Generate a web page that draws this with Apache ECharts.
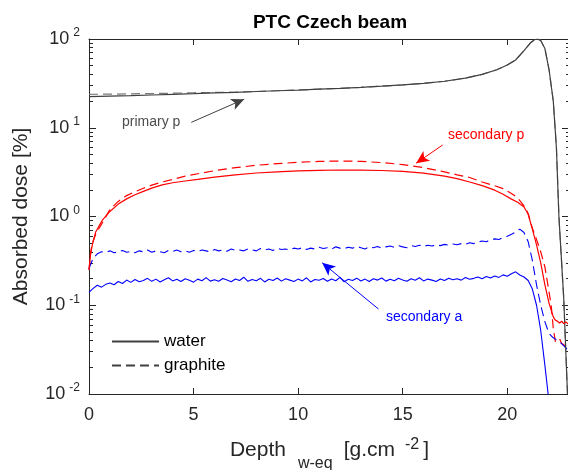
<!DOCTYPE html>
<html>
<head>
<meta charset="utf-8">
<script src="https://cdn.jsdelivr.net/npm/echarts@6/dist/echarts.min.js"></script>
<style>
  html, body { margin: 0; padding: 0; background: #ffffff; }
  #chart { width: 568px; height: 470px; }
</style>
</head>
<body>
<div id="chart"></div>
<script>
// Depth in water-equivalent [g/cm^2], dose in percent of Bragg-peak maximum.

// Primary protons
const primaryDepth = [0, 1, 2, 3, 4, 5, 6, 7, 8, 9, 10, 11, 12, 13, 14, 15, 16, 17, 18, 18.8, 19.5, 20, 20.4, 20.8, 21.1, 21.3, 21.45, 21.6, 21.8, 22.0, 22.2, 22.35, 22.47, 22.6, 22.7, 22.8, 22.88];
const primaryWater = [22.4, 22.7, 23.0, 23.4, 23.8, 24.2, 24.7, 25.1, 25.6, 26.1, 26.6, 27.2, 27.8, 28.5, 29.4, 30.4, 31.7, 33.4, 36.2, 40, 45, 51, 58, 74, 90, 98, 100, 96, 78, 45, 20, 6, 1, 0.3, 0.12, 0.03, 0.01];
const primaryGraphite = [23.8, 23.9, 24.1, 24.3, 24.5, 24.8, 25.0, 25.2, 25.6, 26.1, 26.6, 27.2, 27.8, 28.5, 29.4, 30.4, 31.7, 33.4, 36.2, 40, 45, 51, 58, 74, 90, 98, 100, 96, 78, 45, 20, 6, 1, 0.3, 0.12, 0.03, 0.01];

// Secondary protons
const secDepth = [0, 0.08, 0.16, 0.32, 0.64, 1.0, 1.4, 1.8, 2.2, 2.6, 3.0, 3.5, 4.0, 4.6, 5.2, 6.0, 7.0, 8.0, 9.0, 10.0, 11.0, 12.0, 13.0, 14.0, 15.0, 16.0, 17.0, 17.6, 18.2, 18.8, 19.4, 19.8, 20.2, 20.5, 20.8, 21.0, 21.2, 21.4, 21.6, 21.8, 22.0, 22.1, 22.2, 22.3, 22.4, 22.5, 22.6, 22.7, 22.8, 22.9, 23.0];
const secProtonWater = [0.25, 0.38, 0.48, 0.67, 0.91, 1.14, 1.38, 1.58, 1.76, 1.92, 2.09, 2.27, 2.40, 2.51, 2.62, 2.78, 2.95, 3.09, 3.18, 3.26, 3.31, 3.34, 3.33, 3.30, 3.22, 3.08, 2.85, 2.67, 2.45, 2.23, 1.98, 1.78, 1.57, 1.45, 1.28, 1.06, 0.72, 0.48, 0.30, 0.17, 0.105, 0.088, 0.074, 0.068, 0.066, 0.063, 0.066, 0.062, 0.065, 0.062, 0.064];
const secProtonGraphite = [0.25, 0.40, 0.50, 0.63, 0.85, 1.20, 1.48, 1.72, 1.90, 2.08, 2.26, 2.45, 2.62, 2.85, 3.03, 3.28, 3.55, 3.78, 3.94, 4.08, 4.18, 4.22, 4.18, 4.05, 3.85, 3.55, 3.18, 2.95, 2.75, 2.45, 2.22, 2.06, 1.82, 1.62, 1.32, 1.08, 0.74, 0.55, 0.40, 0.27, 0.14, 0.10, 0.055, 0.039, 0.040, 0.042, 0.037, 0.036, 0.034, 0.036, 0.035];

// Secondary alphas (Monte Carlo scatter kept as scored)
const alphaDepth = [0, 0.2, 0.4, 0.6, 0.8, 1, 1.2, 1.4, 1.6, 1.8, 2, 2.2, 2.4, 2.6, 2.8, 3, 3.2, 3.4, 3.6, 3.8, 4, 4.2, 4.4, 4.6, 4.8, 5, 5.2, 5.4, 5.6, 5.8, 6, 6.2, 6.4, 6.6, 6.8, 7, 7.2, 7.4, 7.6, 7.8, 8, 8.2, 8.4, 8.6, 8.8, 9, 9.2, 9.4, 9.6, 9.8, 10, 10.2, 10.4, 10.6, 10.8, 11, 11.2, 11.4, 11.6, 11.8, 12, 12.2, 12.4, 12.6, 12.8, 13, 13.2, 13.4, 13.6, 13.8, 14, 14.2, 14.4, 14.6, 14.8, 15, 15.2, 15.4, 15.6, 15.8, 16, 16.2, 16.4, 16.6, 16.8, 17, 17.2, 17.4, 17.6, 17.8, 18, 18.2, 18.4, 18.6, 18.8, 19, 19.2, 19.4, 19.6, 19.8, 20, 20.2, 20.4, 20.6, 20.8, 21, 21.2, 21.4, 21.6, 21.8, 22, 22.2, 22.4, 22.6, 22.8, 23];
const alphaWater = [0.140, 0.155, 0.168, 0.160, 0.172, 0.178, 0.170, 0.185, 0.176, 0.192, 0.181, 0.195, 0.184, 0.190, 0.201, 0.186, 0.197, 0.183, 0.194, 0.204, 0.188, 0.196, 0.185, 0.199, 0.191, 0.182, 0.197, 0.189, 0.205, 0.187, 0.194, 0.186, 0.200, 0.192, 0.184, 0.198, 0.190, 0.207, 0.186, 0.195, 0.189, 0.201, 0.183, 0.196, 0.190, 0.203, 0.187, 0.199, 0.192, 0.185, 0.197, 0.188, 0.204, 0.183, 0.195, 0.191, 0.200, 0.186, 0.198, 0.189, 0.206, 0.184, 0.196, 0.190, 0.202, 0.188, 0.197, 0.185, 0.199, 0.192, 0.203, 0.187, 0.196, 0.189, 0.201, 0.193, 0.186, 0.199, 0.191, 0.204, 0.188, 0.197, 0.192, 0.185, 0.198, 0.190, 0.202, 0.194, 0.199, 0.192, 0.205, 0.196, 0.201, 0.208, 0.199, 0.211, 0.203, 0.214, 0.206, 0.220, 0.212, 0.226, 0.238, 0.219, 0.208, 0.190, 0.152, 0.100, 0.052, 0.021, 0.008];
const alphaGraphite = [0.26, 0.34, 0.38, 0.40, 0.395, 0.41, 0.39, 0.40, 0.415, 0.395, 0.405, 0.39, 0.41, 0.40, 0.42, 0.395, 0.41, 0.40, 0.39, 0.415, 0.405, 0.42, 0.40, 0.41, 0.395, 0.415, 0.405, 0.42, 0.41, 0.40, 0.425, 0.41, 0.42, 0.405, 0.43, 0.415, 0.42, 0.41, 0.43, 0.42, 0.41, 0.435, 0.42, 0.43, 0.415, 0.44, 0.425, 0.43, 0.42, 0.44, 0.43, 0.445, 0.425, 0.44, 0.43, 0.45, 0.435, 0.445, 0.43, 0.455, 0.44, 0.435, 0.45, 0.44, 0.46, 0.445, 0.43, 0.455, 0.445, 0.46, 0.44, 0.455, 0.465, 0.45, 0.47, 0.455, 0.445, 0.47, 0.46, 0.475, 0.46, 0.475, 0.465, 0.48, 0.47, 0.485, 0.475, 0.49, 0.48, 0.495, 0.485, 0.505, 0.495, 0.515, 0.53, 0.52, 0.545, 0.56, 0.55, 0.58, 0.60, 0.63, 0.67, 0.72, 0.66, 0.52, 0.32, 0.17, 0.10, 0.065, 0.048, 0.043, 0.040, 0.037, 0.033, 0.030];

// Axis ticks
const xTicks = [0, 5, 10, 15, 20];
const yDecades = [0.01, 0.1, 1, 10, 100];
const yDecadeExponents = ['-2', '-1', '0', '1', '2'];
const yMinorTicks = [0.02, 0.03, 0.04, 0.05, 0.06, 0.07, 0.08, 0.09,
                     0.2, 0.3, 0.4, 0.5, 0.6, 0.7, 0.8, 0.9,
                     2, 3, 4, 5, 6, 7, 8, 9,
                     20, 30, 40, 50, 60, 70, 80, 90];

// Annotation arrows: [tail, head] in data coordinates
const primaryArrow = [[4.89, 11.5], [7.42, 21.0]];
const secProtonArrow = [[16.91, 6.39], [15.64, 3.98]];
const alphaArrow = [[13.84, 0.0908], [11.15, 0.301]];

const FONT = 'Liberation Sans';
const AXIS_COLOR = '#262626';
const GRAY = '#404040';
const RED = '#ff0000';
const BLUE = '#0000ff';
const DASH = [9, 5];

const pairs = (xs, ys) => ys.map((y, i) => [xs[i], y]);

function exponentOf(v) {
  const i = yDecades.findIndex(d => Math.abs(d - v) <= d * 1e-6);
  return i >= 0 ? yDecadeExponents[i] : '';
}

function curve(name, xs, ys, color, dashed, width, z) {
  return {
    name: name,
    type: 'line',
    data: pairs(xs, ys),
    symbol: 'none',
    showSymbol: false,
    clip: true,
    z: z,
    lineStyle: { color: color, width: width, type: dashed ? DASH : 'solid' },
    emphasis: { disabled: true }
  };
}

function arrow(points, color) {
  return {
    silent: true,
    animation: false,
    symbol: ['none', 'arrow'],
    symbolSize: [9, 13],
    label: { show: false },
    lineStyle: { color: color, width: 1, type: 'solid' },
    emphasis: { disabled: true },
    data: [[{ coord: points[0] }, { coord: points[1] }]]
  };
}

function logAxis(position, ticks, tickLen, showLabels, showLine) {
  return {
    type: 'log',
    logBase: 10,
    position: position,
    min: 0.01,
    max: 100,
    gridIndex: 0,
    axisLine: { show: showLine, lineStyle: { color: AXIS_COLOR, width: 1 } },
    axisTick: { show: true, inside: true, length: tickLen, customValues: ticks,
                lineStyle: { color: AXIS_COLOR, width: 1 } },
    splitLine: { show: false },
    minorTick: { show: false },
    axisLabel: showLabels ? {
      show: true,
      customValues: yDecades,
      margin: 9,
      formatter: v => '{b|10}{s|' + exponentOf(v) + '}',
      rich: {
        b: { fontSize: 18, lineHeight: 20, color: AXIS_COLOR, fontFamily: FONT },
        s: { fontSize: 12, lineHeight: 12, padding: [0, 0, 12, 4], color: AXIS_COLOR, fontFamily: FONT }
      }
    } : { show: false }
  };
}

function depthAxis(position, showLabels) {
  return {
    type: 'value',
    position: position,
    min: 0,
    max: 23,
    interval: 5,
    axisLine: { show: true, onZero: false, lineStyle: { color: AXIS_COLOR, width: 1 } },
    axisTick: { show: true, inside: true, length: 6, customValues: xTicks,
                lineStyle: { color: AXIS_COLOR, width: 1 } },
    splitLine: { show: false },
    axisLabel: showLabels ? {
      show: true, customValues: xTicks, margin: 12, fontSize: 18, color: AXIS_COLOR, fontFamily: FONT
    } : { show: false }
  };
}

const chart = echarts.init(document.getElementById('chart'), null, { renderer: 'canvas' });

const bottomAxis = depthAxis('bottom', true);
bottomAxis.name = '{m|Depth}{sub|w-eq}{m2|[g.cm}{sup|-2}{m3|]}';
bottomAxis.nameLocation = 'middle';
bottomAxis.nameGap = 34;
bottomAxis.nameTextStyle = {
  fontFamily: FONT,
  color: AXIS_COLOR,
  rich: {
    m:   { fontSize: 21, lineHeight: 22, color: AXIS_COLOR, fontFamily: FONT },
    sub: { fontSize: 16, lineHeight: 16, padding: [27, 0, 0, 12], color: AXIS_COLOR, fontFamily: FONT },
    m2:  { fontSize: 21, lineHeight: 22, padding: [0, 0, 0, 11], color: AXIS_COLOR, fontFamily: FONT },
    sup: { fontSize: 16, lineHeight: 16, padding: [0, 4, 12, 10], color: AXIS_COLOR, fontFamily: FONT },
    m3:  { fontSize: 21, lineHeight: 22, color: AXIS_COLOR, fontFamily: FONT }
  }
};

const leftAxis = logAxis('left', yDecades, 7, true, true);
leftAxis.name = 'Absorbed dose [%]';
leftAxis.nameLocation = 'middle';
leftAxis.nameGap = 57;
leftAxis.nameTextStyle = { fontSize: 21, color: AXIS_COLOR, fontFamily: FONT };

const option = {
  animation: false,
  backgroundColor: '#ffffff',
  textStyle: { fontFamily: FONT },
  title: {
    text: 'PTC Czech beam',
    left: 325,
    top: 8,
    textAlign: 'center',
    textStyle: { fontSize: 19, fontWeight: 'bold', color: '#000000', fontFamily: FONT }
  },
  grid: { left: 89, top: 39, width: 481, height: 355, containLabel: false, outerBoundsMode: 'none' },
  xAxis: [bottomAxis, depthAxis('top', false)],
  yAxis: [
    leftAxis,
    logAxis('left', yMinorTicks, 4, false, false),
    logAxis('right', yDecades, 8, false, true),
    logAxis('right', yMinorTicks, 4, false, false)
  ],
  legend: {
    data: ['water', 'graphite'],
    orient: 'vertical',
    left: 111,
    top: 333,
    padding: 0,
    itemWidth: 47,
    itemHeight: 10,
    itemGap: 7,
    selectedMode: false,
    itemStyle: { opacity: 0 },
    textStyle: { fontSize: 17, color: '#000000', fontFamily: FONT, lineHeight: 17 }
  },
  graphic: [
    { type: 'text', left: 122, top: 115, silent: true,
      style: { text: 'primary p', fontSize: 14, fontFamily: FONT, fill: '#4d4d4d' } },
    { type: 'text', left: 448, top: 128, silent: true,
      style: { text: 'secondary p', fontSize: 14, fontFamily: FONT, fill: RED } },
    { type: 'text', left: 386, top: 310, silent: true,
      style: { text: 'secondary a', fontSize: 14, fontFamily: FONT, fill: BLUE } }
  ],
  series: [
    curve('primary p (graphite)', primaryDepth, primaryGraphite, '#7a7a7a', true, 1.2, 2),
    Object.assign(curve('primary p (water)', primaryDepth, primaryWater, GRAY, false, 1.2, 3),
                  { markLine: arrow(primaryArrow, GRAY) }),
    curve('secondary p (graphite)', secDepth, secProtonGraphite, RED, true, 1.2, 2),
    Object.assign(curve('secondary p (water)', secDepth, secProtonWater, RED, false, 1.2, 3),
                  { markLine: arrow(secProtonArrow, RED) }),
    curve('secondary a (graphite)', alphaDepth, alphaGraphite, BLUE, true, 1.1, 2),
    Object.assign(curve('secondary a (water)', alphaDepth, alphaWater, BLUE, false, 1.1, 3),
                  { markLine: arrow(alphaArrow, BLUE) }),
    { name: 'water', type: 'line', data: [], symbol: 'none',
      lineStyle: { color: GRAY, width: 1.2, type: 'solid' }, itemStyle: { color: GRAY } },
    { name: 'graphite', type: 'line', data: [], symbol: 'none',
      lineStyle: { color: GRAY, width: 1.2, type: DASH }, itemStyle: { color: GRAY } }
  ]
};

chart.setOption(option);
</script>
</body>
</html>
